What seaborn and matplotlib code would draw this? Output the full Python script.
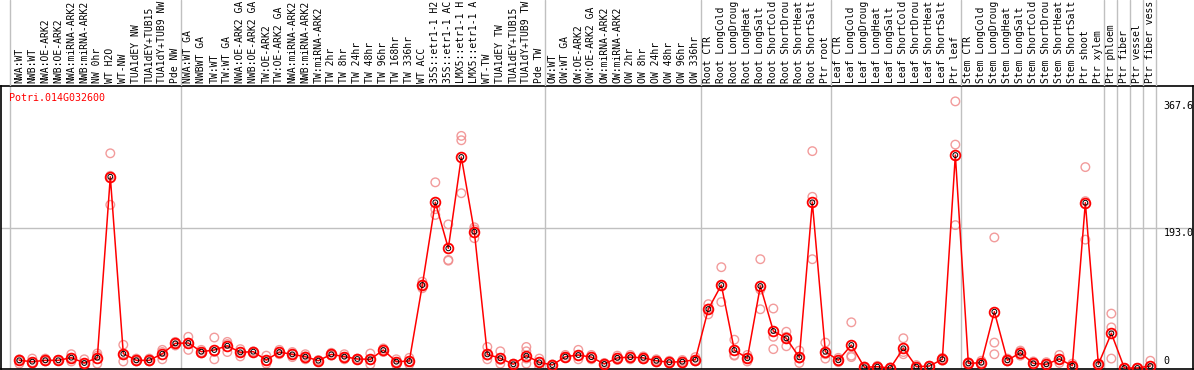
import matplotlib
matplotlib.use("Agg")
import matplotlib.pyplot as plt
import matplotlib.transforms as mtransforms
import seaborn as sns
import pandas as pd

gene_id = "Potri.014G032600"

samples = [
    "NWA:WT", "NWB:WT", "NWA:OE-ARK2", "NWB:OE-ARK2", "NWA:miRNA-ARK2", "NWB:miRNA-ARK2",
    "NW 0hr", "WT H2O", "WT-NW", "TUA1dEY NW", "TUA1dEY+TUB15", "TUA1dY+TUB9 NW", "Pde NW",
    "NWA:WT GA", "NWBWT GA", "TW:WT", "TW:WT GA", "NWA:OE-ARK2 GA", "NWB:OE-ARK2 GA",
    "TW:OE-ARK2", "TW:OE-ARK2 GA", "NWA:miRNA-ARK2", "NWB:miRNA-ARK2", "TW:miRNA-ARK2",
    "TW 2hr", "TW 8hr", "TW 24hr", "TW 48hr", "TW 96hr", "TW 168hr", "TW 336hr", "WT ACC",
    "35S::etr1-1 H2", "35S::etr1-1 AC", "LMX5::etr1-1 H", "LMX5::etr1-1 A", "WT-TW",
    "TUA1dEY TW", "TUA1dEY+TUB15", "TUA1dY+TUB9 TW", "Pde TW",
    "OW:WT", "OW:WT GA", "OW:OE-ARK2", "OW:OE-ARK2 GA", "OW:miRNA-ARK2", "OW:miRNA-ARK2",
    "OW 2hr", "OW 8hr", "OW 24hr", "OW 48hr", "OW 96hr", "OW 336hr",
    "Root CTR", "Root LongCold", "Root LongDroug", "Root LongHeat", "Root LongSalt",
    "Root ShortCold", "Root ShortDrou", "Root ShortHeat", "Root ShortSalt", "Ptr root",
    "Leaf CTR", "Leaf LongCold", "Leaf LongDroug", "Leaf LongHeat", "Leaf LongSalt",
    "Leaf ShortCold", "Leaf ShortDrou", "Leaf ShortHeat", "Leaf ShortSalt", "Ptr leaf",
    "Stem CTR", "Stem LongCold", "Stem LongDroug", "Stem LongHeat", "Stem LongSalt",
    "Stem ShortCold", "Stem ShortDrou", "Stem ShortHeat", "Stem ShortSalt", "Ptr shoot",
    "Ptr xylem", "Ptr phloem", "Ptr fiber", "Ptr vessel", "Ptr fiber vess",
]

# mean expression per sample (red line)
means = [
    10.6, 8.7, 10.6, 10.6, 14.2, 6.9, 14.2, 263.7, 19.7, 10.6, 10.6, 19.7, 34.0,
    34.5, 22.5, 24.8, 30.7, 21.6, 22.5, 11.0, 22.0, 18.8, 15.6, 10.1,
    18.8, 15.6, 12.4, 12.0, 24.8, 8.7, 9.6, 114.4,
    228.4, 165.0, 290.9, 188.0, 18.8, 13.4, 5.1, 17.0, 7.8,
    4.1, 15.6, 17.9, 15.0, 5.5, 14.0, 15.0, 14.0, 10.0, 8.0, 8.7, 11.5,
    81.3, 114.4, 24.8, 13.4, 113.0, 51.0, 40.9, 14.7, 228.4, 22.5,
    10.6, 31.7, 1.0, 1.8, 0.0, 27.1, 1.8, 2.7, 12.0, 293.6,
    6.4, 7.3, 77.6, 10.6, 21.0, 6.4, 5.1, 12.4, 3.2, 227.9,
    5.1, 47.8, 0.0, 0.0, 2.7,
]

# individual replicates (light red circles)
replicates = [
    [10, 6, 12], [13, 6, 8], [13, 9, 10], [11, 10, 11], [19, 14, 9], [12, 6, 2],
    [20, 17, 6], [296, 265, 225], [32, 19, 9], [13, 10, 9], [13, 9, 10], [25, 22, 12], [36, 34, 31],
    [43, 35, 25], [25, 22, 20], [42, 22, 12], [36, 33, 22], [26, 22, 16], [23, 22, 22],
    [17, 10, 6], [25, 22, 19], [22, 19, 15], [19, 16, 12], [11, 10, 9],
    [21, 18, 17], [19, 15, 12], [13, 12, 12], [20, 11, 5], [27, 25, 22], [12, 8, 4], [14, 9, 5],
    [119, 114, 110], [256, 219, 211], [198, 148, 149], [320, 314, 241], [194, 191, 179],
    [29, 17, 12], [23, 11, 6], [6, 5, 4], [29, 23, 13, 6], [13, 8, 1],
    [5, 4, 3], [18, 15, 14], [25, 17, 12], [18, 15, 12], [7, 5, 4], [17, 14, 11],
    [18, 15, 12], [16, 14, 12], [12, 10, 8], [10, 8, 6], [11, 9, 6], [15, 11, 9],
    [88, 82, 74], [139, 114, 91], [39, 18, 17], [18, 13, 9], [150, 108, 81],
    [82, 43, 26], [50, 43, 30], [24, 13, 7], [299, 236, 150], [35, 19, 13],
    [14, 10, 8], [63, 17, 15], [2, 1, 0], [3, 2, 1], [1, 0, 0],
    [41, 22, 19], [4, 1, 1], [3, 3, 2], [14, 12, 10], [367.6, 308, 197],
    [8, 6, 3], [10, 7, 5], [180, 35, 19], [13, 10, 9], [24, 22, 17],
    [9, 6, 4], [8, 5, 3], [18, 12, 7], [6, 3, 1], [277, 230, 177],
    [6, 5, 4], [75, 56, 13], [0, 0, 0], [0, 0, 0], [10, 0, 0],
]

# last sample index of each block (grey separators)
block_ends = [12, 40, 52, 62, 72, 83, 84, 85, 86, 87]
scale_values = [367.6, 193.0, 0]
scale_labels = ["367.6", "193.0", "0"]

sns.set_style("white")
plt.rcParams["font.family"] = ["DejaVu Sans Mono"]

rep_df = pd.DataFrame(
    [(i, v) for i, vals in enumerate(replicates) for v in vals], columns=["idx", "value"]
)
mean_df = pd.DataFrame({"idx": range(len(samples)), "value": means})

W, H = 1194, 370
fig = plt.figure(figsize=(W / 100, H / 100), dpi=100)
ax = fig.add_axes([1 / W, 1 / H, 1192 / W, 283 / H])
top = fig.add_axes([1 / W, 284 / H, 1192 / W, 86 / H], sharex=ax)

grey = "#c0c0c0"
seps = [-0.7] + [b + 0.4 for b in block_ends]
for s in seps:
    ax.axvline(s, color=grey, lw=1, zorder=0)
    top.axvline(s, color=grey, lw=1, zorder=0)
ax.axhline(193.0, color=grey, lw=1, zorder=0)

sns.scatterplot(data=rep_df, x="idx", y="value", ax=ax, marker="o", s=38,
                facecolors="none", edgecolors="#f08a8a", linewidth=1.0, alpha=0.85,
                zorder=2, legend=False)
sns.lineplot(data=mean_df, x="idx", y="value", ax=ax, color="red", lw=1.1,
             estimator=None, marker="o", ms=7, mfc="none", mec="red", mew=1.3,
             zorder=3, legend=False)
sns.scatterplot(data=mean_df, x="idx", y="value", ax=ax, marker="o", s=12,
                facecolors="none", edgecolors="black", linewidth=0.7, zorder=4, legend=False)

ax.set_xlim(-1.408, 90.28)
ax.set_ylim(-1.38, 388.8)
ax.set_xticks([])
ax.set_yticks([])
ax.set_xlabel("")
ax.set_ylabel("")
for sp in ax.spines.values():
    sp.set_color("black")
    sp.set_linewidth(1.2)

ax.text(0.007, 0.975, gene_id, transform=ax.transAxes, color="red", fontsize=7.2,
        ha="left", va="top")

tr = mtransforms.blended_transform_factory(ax.transData, ax.transData)
for v, lab in zip(scale_values, scale_labels):
    va = "bottom" if v == 0 else "top"
    off = 3 if v == 0 else 0
    ax.text(88.0, v + off, lab, transform=tr, fontsize=7.2, ha="left", va=va, color="black")

top.set_ylim(0, 1)
top.axis("off")
ttr = mtransforms.blended_transform_factory(top.transData, top.transAxes)
for i, lab in enumerate(samples):
    top.text(i, 0.035, lab, transform=ttr, rotation=90, ha="center", va="bottom",
             fontsize=7, color="black")

fig.savefig("out.png", dpi=100)
